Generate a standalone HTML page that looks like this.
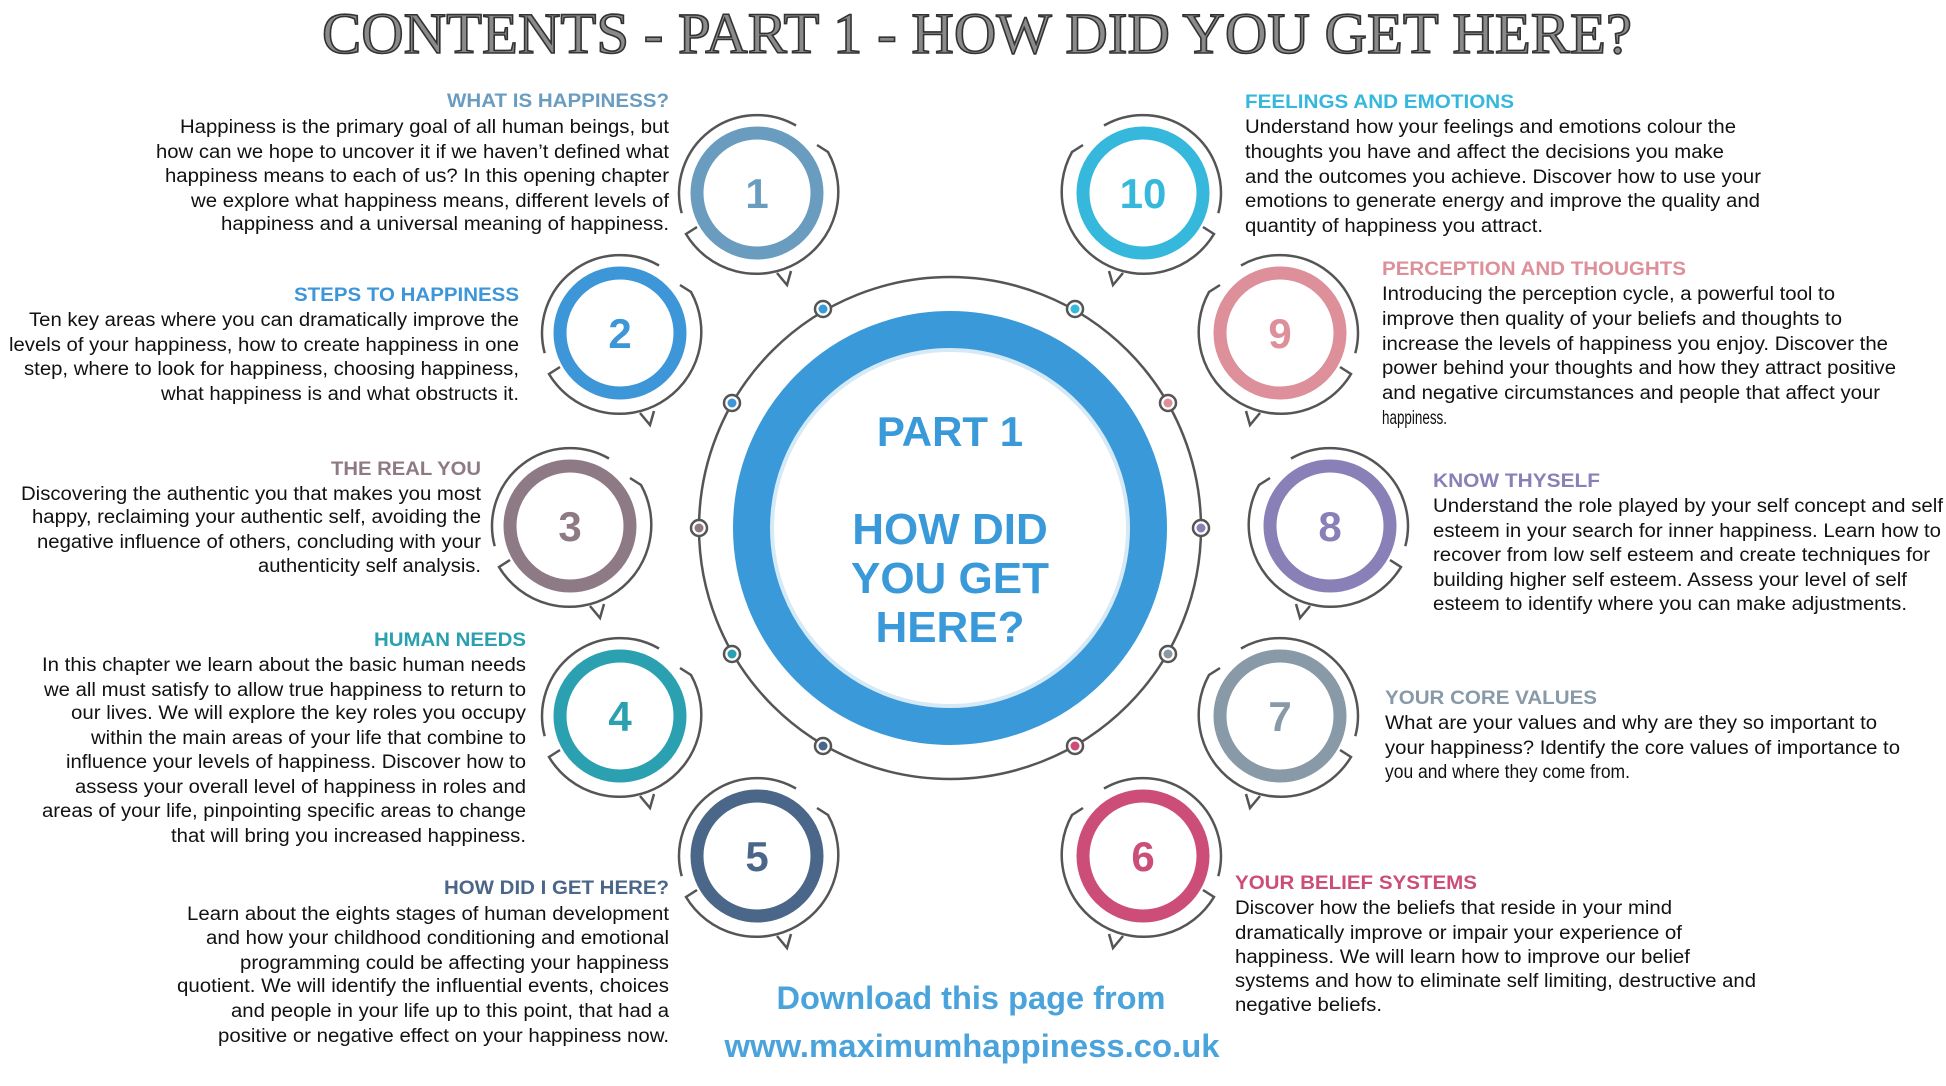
<!DOCTYPE html>
<html><head><meta charset="utf-8"><style>
html,body{margin:0;padding:0;background:#fff;}
svg{display:block;}
.b{font-family:"Liberation Sans",Arial,sans-serif;font-size:19px;fill:#111;}
.h{font-family:"Liberation Sans",Arial,sans-serif;font-size:19px;font-weight:bold;}
.n{font-family:"Liberation Sans",Arial,sans-serif;font-size:42px;font-weight:bold;text-anchor:middle;}
.c{font-family:"Liberation Sans",Arial,sans-serif;font-weight:bold;fill:#3a9ad9;text-anchor:middle;}
</style></head><body>
<svg width="1946" height="1086" viewBox="0 0 1946 1086" xmlns="http://www.w3.org/2000/svg">
<defs>
<g id="decoL" fill="none" stroke="#555" stroke-width="2.5">
<path d="M -75.3 20.2 A 78 78 0 0 1 39 -67.5"/>
<path d="M 60 -48 L 71 -41 A 82 82 0 0 1 -71 41 L -60 34"/>
<path d="M 20 80 L 30 92 L 34 78"/>
</g>
</defs>
<!-- title -->
<text x="977" y="53" text-anchor="middle" textLength="1310" lengthAdjust="spacingAndGlyphs" font-family="Liberation Serif, serif" font-size="58" fill="#8a8a8a" stroke="#333" stroke-width="1.6">CONTENTS - PART 1 - HOW DID YOU GET HERE?</text>

<!-- central -->
<circle cx="950" cy="528" r="251" fill="none" stroke="#555" stroke-width="2.5"/>
<circle cx="950" cy="528" r="198" fill="#fff" stroke="#3a9ad9" stroke-width="38"/>
<circle cx="950" cy="528" r="178" fill="none" stroke="#d6e9f6" stroke-width="4"/>
<text class="c" x="950" y="446" font-size="42">PART 1</text>
<text class="c" x="950" y="544" font-size="44">HOW DID</text>
<text class="c" x="950" y="593" font-size="44">YOU GET</text>
<text class="c" x="950" y="642" font-size="44">HERE?</text>

<g stroke="#555" stroke-width="2.5" fill="#fff">
<circle cx="823" cy="309" r="8"/><circle cx="1075" cy="309" r="8"/>
<circle cx="732" cy="403" r="8"/><circle cx="1168" cy="403" r="8"/>
<circle cx="699" cy="528" r="8"/><circle cx="1201" cy="528" r="8"/>
<circle cx="732" cy="654" r="8"/><circle cx="1168" cy="654" r="8"/>
<circle cx="823" cy="746" r="8"/><circle cx="1075" cy="746" r="8"/>
</g>
<g>
<circle cx="823" cy="309" r="4.5" fill="#3a9ad9"/><circle cx="1075" cy="309" r="4.5" fill="#35b8dc"/>
<circle cx="732" cy="403" r="4.5" fill="#3d96d8"/><circle cx="1168" cy="403" r="4.5" fill="#dd8f9a"/>
<circle cx="699" cy="528" r="4.5" fill="#8e7a84"/><circle cx="1201" cy="528" r="4.5" fill="#8a80b8"/>
<circle cx="732" cy="654" r="4.5" fill="#2aa0b0"/><circle cx="1168" cy="654" r="4.5" fill="#8899a8"/>
<circle cx="823" cy="746" r="4.5" fill="#4a6688"/><circle cx="1075" cy="746" r="4.5" fill="#cc4d78"/>
</g>

<!-- nodes left -->
<g transform="translate(757,193)"><use href="#decoL"/><circle r="60" fill="#fff" stroke="#6a9cc0" stroke-width="13"/><text class="n" y="15" fill="#6a9cc0">1</text></g>
<g transform="translate(620,333)"><use href="#decoL"/><circle r="60" fill="#fff" stroke="#3d96d8" stroke-width="13"/><text class="n" y="15" fill="#3d96d8">2</text></g>
<g transform="translate(570,526)"><use href="#decoL"/><circle r="60" fill="#fff" stroke="#8e7a84" stroke-width="13"/><text class="n" y="15" fill="#8e7a84">3</text></g>
<g transform="translate(620,716)"><use href="#decoL"/><circle r="60" fill="#fff" stroke="#2aa0b0" stroke-width="13"/><text class="n" y="15" fill="#2aa0b0">4</text></g>
<g transform="translate(757,856)"><use href="#decoL"/><circle r="60" fill="#fff" stroke="#4a6688" stroke-width="13"/><text class="n" y="15" fill="#4a6688">5</text></g>
<!-- nodes right -->
<g transform="translate(1143,193)"><use href="#decoL" transform="scale(-1,1)"/><circle r="60" fill="#fff" stroke="#35b8dc" stroke-width="13"/><text class="n" y="15" fill="#35b8dc">10</text></g>
<g transform="translate(1280,333)"><use href="#decoL" transform="scale(-1,1)"/><circle r="60" fill="#fff" stroke="#dd8f9a" stroke-width="13"/><text class="n" y="15" fill="#dd8f9a">9</text></g>
<g transform="translate(1330,526)"><use href="#decoL" transform="scale(-1,1)"/><circle r="60" fill="#fff" stroke="#8a80b8" stroke-width="13"/><text class="n" y="15" fill="#8a80b8">8</text></g>
<g transform="translate(1280,716)"><use href="#decoL" transform="scale(-1,1)"/><circle r="60" fill="#fff" stroke="#8899a8" stroke-width="13"/><text class="n" y="15" fill="#8899a8">7</text></g>
<g transform="translate(1143,856)"><use href="#decoL" transform="scale(-1,1)"/><circle r="60" fill="#fff" stroke="#cc4d78" stroke-width="13"/><text class="n" y="15" fill="#cc4d78">6</text></g>

<!-- left text -->
<g text-anchor="end" lengthAdjust="spacingAndGlyphs">
<text class="h" fill="#6a9cc0" x="669" y="107" textLength="222" lengthAdjust="spacingAndGlyphs">WHAT IS HAPPINESS?</text>
<text class="b" x="669" y="133" textLength="489" lengthAdjust="spacingAndGlyphs">Happiness is the primary goal of all human beings, but</text>
<text class="b" x="669" y="158" textLength="513" lengthAdjust="spacingAndGlyphs">how can we hope to uncover it if we haven’t defined what</text>
<text class="b" x="669" y="182" textLength="504" lengthAdjust="spacingAndGlyphs">happiness means to each of us? In this opening chapter</text>
<text class="b" x="669" y="207" textLength="478" lengthAdjust="spacingAndGlyphs">we explore what happiness means, different levels of</text>
<text class="b" x="669" y="230" textLength="448" lengthAdjust="spacingAndGlyphs">happiness and a universal meaning of happiness.</text>

<text class="h" fill="#3d96d8" x="519" y="301" textLength="225" lengthAdjust="spacingAndGlyphs">STEPS TO HAPPINESS</text>
<text class="b" x="519" y="326" textLength="490" lengthAdjust="spacingAndGlyphs">Ten key areas where you can dramatically improve the</text>
<text class="b" x="519" y="351" textLength="510" lengthAdjust="spacingAndGlyphs">levels of your happiness, how to create happiness in one</text>
<text class="b" x="519" y="375" textLength="495" lengthAdjust="spacingAndGlyphs">step, where to look for happiness, choosing happiness,</text>
<text class="b" x="519" y="400" textLength="358" lengthAdjust="spacingAndGlyphs">what happiness is and what obstructs it.</text>

<text class="h" fill="#8e7a84" x="481" y="475" textLength="150" lengthAdjust="spacingAndGlyphs">THE REAL YOU</text>
<text class="b" x="481" y="500" textLength="460" lengthAdjust="spacingAndGlyphs">Discovering the authentic you that makes you most</text>
<text class="b" x="481" y="523" textLength="449" lengthAdjust="spacingAndGlyphs">happy, reclaiming your authentic self, avoiding the</text>
<text class="b" x="481" y="548" textLength="444" lengthAdjust="spacingAndGlyphs">negative influence of others, concluding with your</text>
<text class="b" x="481" y="572" textLength="223" lengthAdjust="spacingAndGlyphs">authenticity self analysis.</text>

<text class="h" fill="#2aa0b0" x="526" y="646" textLength="152" lengthAdjust="spacingAndGlyphs">HUMAN NEEDS</text>
<text class="b" x="526" y="671" textLength="484" lengthAdjust="spacingAndGlyphs">In this chapter we learn about the basic human needs</text>
<text class="b" x="526" y="696" textLength="482" lengthAdjust="spacingAndGlyphs">we all must satisfy to allow true happiness to return to</text>
<text class="b" x="526" y="719" textLength="455" lengthAdjust="spacingAndGlyphs">our lives. We will explore the key roles you occupy</text>
<text class="b" x="526" y="744" textLength="435" lengthAdjust="spacingAndGlyphs">within the main areas of your life that combine to</text>
<text class="b" x="526" y="768" textLength="460" lengthAdjust="spacingAndGlyphs">influence your levels of happiness. Discover how to</text>
<text class="b" x="526" y="793" textLength="451" lengthAdjust="spacingAndGlyphs">assess your overall level of happiness in roles and</text>
<text class="b" x="526" y="817" textLength="484" lengthAdjust="spacingAndGlyphs">areas of your life, pinpointing specific areas to change</text>
<text class="b" x="526" y="842" textLength="355" lengthAdjust="spacingAndGlyphs">that will bring you increased happiness.</text>

<text class="h" fill="#4a6688" x="669" y="894" textLength="225" lengthAdjust="spacingAndGlyphs">HOW DID I GET HERE?</text>
<text class="b" x="669" y="920" textLength="482" lengthAdjust="spacingAndGlyphs">Learn about the eights stages of human development</text>
<text class="b" x="669" y="944" textLength="463" lengthAdjust="spacingAndGlyphs">and how your childhood conditioning and emotional</text>
<text class="b" x="669" y="969" textLength="429" lengthAdjust="spacingAndGlyphs">programming could be affecting your happiness</text>
<text class="b" x="669" y="992" textLength="492" lengthAdjust="spacingAndGlyphs">quotient. We will identify the influential events, choices</text>
<text class="b" x="669" y="1017" textLength="438" lengthAdjust="spacingAndGlyphs">and people in your life up to this point, that had a</text>
<text class="b" x="669" y="1042" textLength="451" lengthAdjust="spacingAndGlyphs">positive or negative effect on your happiness now.</text>
</g>

<!-- right text -->
<g text-anchor="start">
<text class="h" fill="#35b8dc" x="1245" y="108" textLength="269" lengthAdjust="spacingAndGlyphs">FEELINGS AND EMOTIONS</text>
<text class="b" x="1245" y="133" textLength="491" lengthAdjust="spacingAndGlyphs">Understand how your feelings and emotions colour the</text>
<text class="b" x="1245" y="158" textLength="479" lengthAdjust="spacingAndGlyphs">thoughts you have and affect the decisions you make</text>
<text class="b" x="1245" y="183" textLength="516" lengthAdjust="spacingAndGlyphs">and the outcomes you achieve. Discover how to use your</text>
<text class="b" x="1245" y="207" textLength="515" lengthAdjust="spacingAndGlyphs">emotions to generate energy and improve the quality and</text>
<text class="b" x="1245" y="232" textLength="298" lengthAdjust="spacingAndGlyphs">quantity of happiness you attract.</text>

<text class="h" fill="#dd8f9a" x="1382" y="275" textLength="304" lengthAdjust="spacingAndGlyphs">PERCEPTION AND THOUGHTS</text>
<text class="b" x="1382" y="300" textLength="453" lengthAdjust="spacingAndGlyphs">Introducing the perception cycle, a powerful tool to</text>
<text class="b" x="1382" y="325" textLength="460" lengthAdjust="spacingAndGlyphs">improve then quality of your beliefs and thoughts to</text>
<text class="b" x="1382" y="350" textLength="506" lengthAdjust="spacingAndGlyphs">increase the levels of happiness you enjoy. Discover the</text>
<text class="b" x="1382" y="374" textLength="514" lengthAdjust="spacingAndGlyphs">power behind your thoughts and how they attract positive</text>
<text class="b" x="1382" y="399" textLength="498" lengthAdjust="spacingAndGlyphs">and negative circumstances and people that affect your</text>
<text class="b" x="1382" y="424" textLength="65" lengthAdjust="spacingAndGlyphs">happiness.</text>

<text class="h" fill="#8a80b8" x="1433" y="487" textLength="167" lengthAdjust="spacingAndGlyphs">KNOW THYSELF</text>
<text class="b" x="1433" y="512" textLength="510" lengthAdjust="spacingAndGlyphs">Understand the role played by your self concept and self</text>
<text class="b" x="1433" y="537" textLength="508" lengthAdjust="spacingAndGlyphs">esteem in your search for inner happiness. Learn how to</text>
<text class="b" x="1433" y="561" textLength="497" lengthAdjust="spacingAndGlyphs">recover from low self esteem and create techniques for</text>
<text class="b" x="1433" y="586" textLength="474" lengthAdjust="spacingAndGlyphs">building higher self esteem. Assess your level of self</text>
<text class="b" x="1433" y="610" textLength="474" lengthAdjust="spacingAndGlyphs">esteem to identify where you can make adjustments.</text>

<text class="h" fill="#8899a8" x="1385" y="704" textLength="212" lengthAdjust="spacingAndGlyphs">YOUR CORE VALUES</text>
<text class="b" x="1385" y="729" textLength="492" lengthAdjust="spacingAndGlyphs">What are your values and why are they so important to</text>
<text class="b" x="1385" y="754" textLength="515" lengthAdjust="spacingAndGlyphs">your happiness? Identify the core values of importance to</text>
<text class="b" x="1385" y="778" textLength="245" lengthAdjust="spacingAndGlyphs">you and where they come from.</text>

<text class="h" fill="#cc4d78" x="1235" y="889" textLength="242" lengthAdjust="spacingAndGlyphs">YOUR BELIEF SYSTEMS</text>
<text class="b" x="1235" y="914" textLength="437" lengthAdjust="spacingAndGlyphs">Discover how the beliefs that reside in your mind</text>
<text class="b" x="1235" y="939" textLength="447" lengthAdjust="spacingAndGlyphs">dramatically improve or impair your experience of</text>
<text class="b" x="1235" y="963" textLength="455" lengthAdjust="spacingAndGlyphs">happiness. We will learn how to improve our belief</text>
<text class="b" x="1235" y="987" textLength="521" lengthAdjust="spacingAndGlyphs">systems and how to eliminate self limiting, destructive and</text>
<text class="b" x="1235" y="1011" textLength="147" lengthAdjust="spacingAndGlyphs">negative beliefs.</text>
</g>

<!-- download -->
<text x="971" y="1009" text-anchor="middle" textLength="389" lengthAdjust="spacingAndGlyphs" font-family="Liberation Sans, sans-serif" font-weight="bold" font-size="32" fill="#4aa3db">Download this page from</text>
<text x="972" y="1057" text-anchor="middle" textLength="495" lengthAdjust="spacingAndGlyphs" font-family="Liberation Sans, sans-serif" font-weight="bold" font-size="32" fill="#4aa3db">www.maximumhappiness.co.uk</text>
</svg>
</body></html>
